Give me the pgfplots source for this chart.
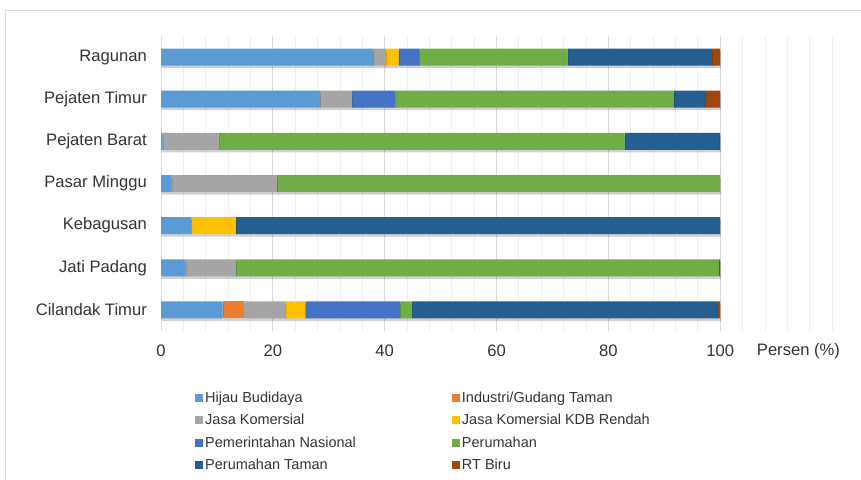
\documentclass[border=0pt]{standalone}
\usepackage{pgfplots}
\pgfplotsset{compat=1.18}
\usepackage{fontspec}
\setmainfont{Liberation Sans}
\definecolor{cHB}{HTML}{5B9BD5}
\definecolor{cIG}{HTML}{ED7D31}
\definecolor{cJK}{HTML}{A5A5A5}
\definecolor{cJR}{HTML}{FFC000}
\definecolor{cPN}{HTML}{4472C4}
\definecolor{cPR}{HTML}{70AD47}
\definecolor{cPT}{HTML}{255E91}
\definecolor{cRT}{HTML}{9E480E}
\definecolor{gridmaj}{HTML}{D9D9D9}
\definecolor{gridmin}{HTML}{EEEEEE}
\definecolor{labelcol}{HTML}{333333}
\begin{document}
\begin{tikzpicture}[x=1pt,y=1pt]
\useasboundingbox (0,0) rectangle (861,479);
\draw[color=gridmaj, line width=1pt] (5,0) -- (5,468) -- (861,468);
\begin{axis}[
  at={(161pt,148pt)}, anchor=south west,
  scale only axis, width=671pt, height=295pt,
  xmin=0, xmax=120, ymin=-0.5, ymax=6.5,
  clip=false,
  xbar stacked, bar width=17pt,
  xtick={0,20,...,100}, minor xtick={4,8,...,120},
  xmajorgrids, xminorgrids,
  major grid style={color=gridmaj, line width=0.8pt},
  minor grid style={color=gridmin, line width=0.8pt},
  ytick={0,...,6},
  yticklabels={Cilandak Timur,Jati Padang,Kebagusan,Pasar Minggu,Pejaten Barat,Pejaten Timur,Ragunan},
  axis line style={draw=none},
  tick style={draw=none},
  major tick length=0pt, minor tick length=0pt,
  /pgf/number format/assume math mode=true,
  ticklabel style={font=\fontsize{16.6}{18}\selectfont, text=labelcol},
  xticklabel style={anchor=center, yshift=-20pt},
  yticklabel style={anchor=east, xshift=-14pt, inner sep=0pt},
  shadowed/.style={draw=none, preaction={fill=black, fill opacity=0.18, transform canvas={xshift=1pt, yshift=-2.5pt}}},
  legend columns=2,
  legend cell align=left,
  legend image code/.code={\fill[#1] (0pt,-4pt) rectangle (8pt,4pt);},
  legend style={at={(0.0507,-0.198)}, anchor=north west, draw=none, fill=none,
    font=\fontsize{14.5}{16}\selectfont, text=labelcol, inner sep=0pt,
    /tikz/every even column/.append style={column sep=94pt}, row sep=6.6pt},
]
\addplot[shadowed, fill=cHB, forget plot] coordinates {(11.0,0) (4.4,1) (5.4,2) (1.9,3) (0.3,4) (28.4,5) (37.9,6)};
\addplot[shadowed, fill=cIG, forget plot] coordinates {(3.9,0) (0,1) (0,2) (0,3) (0,4) (0,5) (0,6)};
\addplot[shadowed, fill=cJK, forget plot] coordinates {(7.3,0) (9.0,1) (0,2) (18.8,3) (10.0,4) (5.8,5) (2.3,6)};
\addplot[shadowed, fill=cJR, forget plot] coordinates {(3.6,0) (0,1) (8.0,2) (0,3) (0,4) (0,5) (2.3,6)};
\addplot[shadowed, fill=cPN, forget plot] coordinates {(16.9,0) (0,1) (0,2) (0,3) (0,4) (7.7,5) (3.6,6)};
\addplot[shadowed, fill=cPR, forget plot] coordinates {(2.1,0) (86.4,1) (0,2) (79.3,3) (72.6,4) (49.8,5) (26.6,6)};
\addplot[shadowed, fill=cPT, forget plot] coordinates {(54.6,0) (0,1) (86.6,2) (0,3) (16.9,4) (5.6,5) (25.8,6)};
\addplot[shadowed, fill=cRT, forget plot] coordinates {(0.6,0) (0.2,1) (0,2) (0,3) (0.2,4) (2.7,5) (1.5,6)};
\addlegendimage{fill=cHB, draw=none}
\addlegendimage{fill=cIG, draw=none}
\addlegendimage{fill=cJK, draw=none}
\addlegendimage{fill=cJR, draw=none}
\addlegendimage{fill=cPN, draw=none}
\addlegendimage{fill=cPR, draw=none}
\addlegendimage{fill=cPT, draw=none}
\addlegendimage{fill=cRT, draw=none}
\legend{Hijau Budidaya, Industri/Gudang Taman, Jasa Komersial, Jasa Komersial KDB Rendah, Pemerintahan Nasional, Perumahan, Perumahan Taman, RT Biru}
\node[font=\fontsize{16.6}{18}\selectfont, text=labelcol] at (axis cs:114,-0.5) [yshift=-20pt] {Persen (\%)};
\end{axis}
\end{tikzpicture}
\end{document}
